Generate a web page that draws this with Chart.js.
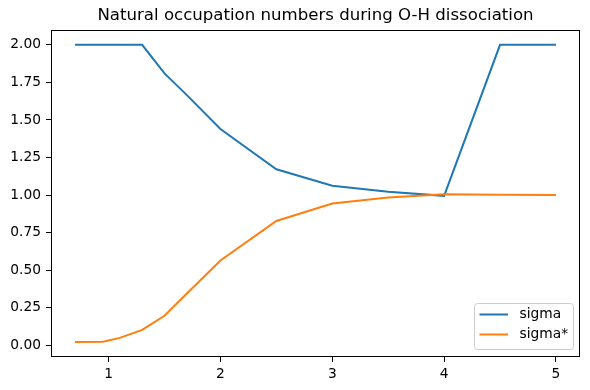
<!DOCTYPE html>
<html>
<head>
<meta charset="utf-8">
<script src="https://cdn.jsdelivr.net/npm/chart.js@4/dist/chart.umd.min.js"></script>
<style>
  html, body { margin: 0; padding: 0; background: #fff; }
  #wrap { width: 590px; height: 390px; }
</style>
</head>
<body>
<div id="wrap"><canvas id="c" width="590" height="390"></canvas></div>
<script>
const chartTitle = "Natural occupation numbers during O-H dissociation";
const seriesNames = ["sigma", "sigma*"];
const bondLength = [0.7, 0.95, 1.1, 1.3, 1.5, 1.7, 2.0, 2.5, 3.0, 3.5, 4.0, 4.5, 5.0];
const sigma = [2.0, 2.0, 2.0, 2.0, 1.81, 1.665, 1.44, 1.172, 1.063, 1.022, 0.995, 2.0, 2.0];
const sigmaStar = [0.022, 0.024, 0.05, 0.103, 0.197, 0.345, 0.565, 0.828, 0.944, 0.984, 1.006, 1.002, 1.001];
const xTicks = [1, 2, 3, 4, 5];
const yTicks = [0, 0.25, 0.5, 0.75, 1.0, 1.25, 1.5, 1.75, 2.0];

const FONT = "'DejaVu Sans', sans-serif";
const BLUE = '#1f77b4', ORANGE = '#ff7f0e';

const framePlugin = {
  id: 'frameLegend',
  afterLayout(chart) {
    const t = chart.titleBlock, a = chart.chartArea;
    if (t) { t.left = a.left; t.right = a.right; t.width = a.right - a.left; }
  },
  afterDatasetsDraw(chart) {
    const ctx = chart.ctx, a = chart.chartArea;
    ctx.save();
    ctx.strokeStyle = '#000';
    ctx.lineWidth = 1;
    ctx.strokeRect(Math.round(a.left) + 0.5, Math.round(a.top) + 0.5,
                   Math.round(a.right - a.left) - 1, Math.round(a.bottom - a.top) - 1);
    // legend (lower right, inside axes)
    const w = 99, h = 46;
    const x0 = Math.round(a.right - 7.5 - w) + 0.5, y0 = Math.round(a.bottom - 8 - h) + 0.5;
    const r = 3;
    ctx.beginPath();
    ctx.moveTo(x0 + r, y0);
    ctx.lineTo(x0 + w - r, y0); ctx.quadraticCurveTo(x0 + w, y0, x0 + w, y0 + r);
    ctx.lineTo(x0 + w, y0 + h - r); ctx.quadraticCurveTo(x0 + w, y0 + h, x0 + w - r, y0 + h);
    ctx.lineTo(x0 + r, y0 + h); ctx.quadraticCurveTo(x0, y0 + h, x0, y0 + h - r);
    ctx.lineTo(x0, y0 + r); ctx.quadraticCurveTo(x0, y0, x0 + r, y0);
    ctx.closePath();
    ctx.fillStyle = 'rgba(255,255,255,0.8)';
    ctx.fill();
    ctx.strokeStyle = '#cccccc';
    ctx.stroke();
    const rows = [y0 + 11, y0 + 31];
    chart.data.datasets.forEach((ds, i) => {
      const y = rows[i];
      ctx.strokeStyle = ds.borderColor;
      ctx.lineWidth = 2;
      ctx.beginPath();
      ctx.moveTo(x0 + 5, y);
      ctx.lineTo(x0 + 33.5, y);
      ctx.stroke();
      ctx.fillStyle = '#000';
      ctx.font = '13.8px ' + FONT;
      ctx.textBaseline = 'middle';
      ctx.textAlign = 'left';
      ctx.fillText(ds.label, x0 + 45, y);
    });
    ctx.restore();
  }
};

new Chart(document.getElementById('c'), {
  type: 'line',
  data: {
    datasets: [
      { label: seriesNames[0], data: bondLength.map((x, i) => ({ x, y: sigma[i] })),
        borderColor: BLUE, backgroundColor: BLUE, borderWidth: 2, pointRadius: 0, tension: 0, order: 1 },
      { label: seriesNames[1], data: bondLength.map((x, i) => ({ x, y: sigmaStar[i] })),
        borderColor: ORANGE, backgroundColor: ORANGE, borderWidth: 2, pointRadius: 0, tension: 0, order: 0 }
    ]
  },
  options: {
    responsive: false,
    animation: false,
    layout: { padding: { left: 0, right: 10, top: 0, bottom: 0 } },
    plugins: {
      legend: { display: false },
      tooltip: { enabled: false },
      title: {
        display: true, text: chartTitle, color: '#000',
        font: { family: FONT, size: 16.6, weight: 'normal', lineHeight: 1.2 },
        padding: { top: 6, bottom: 4 }
      }
    },
    scales: {
      x: {
        type: 'linear', min: 0.485, max: 5.215,
        afterBuildTicks: s => { s.ticks = xTicks.map(v => ({ value: v })); },
        afterFit: s => { s.height = 33; },
        grid: { drawOnChartArea: false, drawTicks: true, tickLength: 5, color: '#000' },
        border: { display: false },
        ticks: { color: '#000', font: { family: FONT, size: 13.8 }, padding: 4, maxRotation: 0,
                 autoSkip: false, callback: v => String(v) }
      },
      y: {
        type: 'linear', min: -0.077, max: 2.099,
        afterBuildTicks: s => { s.ticks = yTicks.map(v => ({ value: v })); },
        afterFit: s => { s.width = 51; },
        grid: { drawOnChartArea: false, drawTicks: true, tickLength: 5, color: '#000' },
        border: { display: false },
        ticks: { color: '#000', font: { family: FONT, size: 13.8 }, padding: 5,
                 autoSkip: false, callback: v => Number(v).toFixed(2) }
      }
    }
  },
  plugins: [framePlugin]
});
</script>
</body>
</html>
